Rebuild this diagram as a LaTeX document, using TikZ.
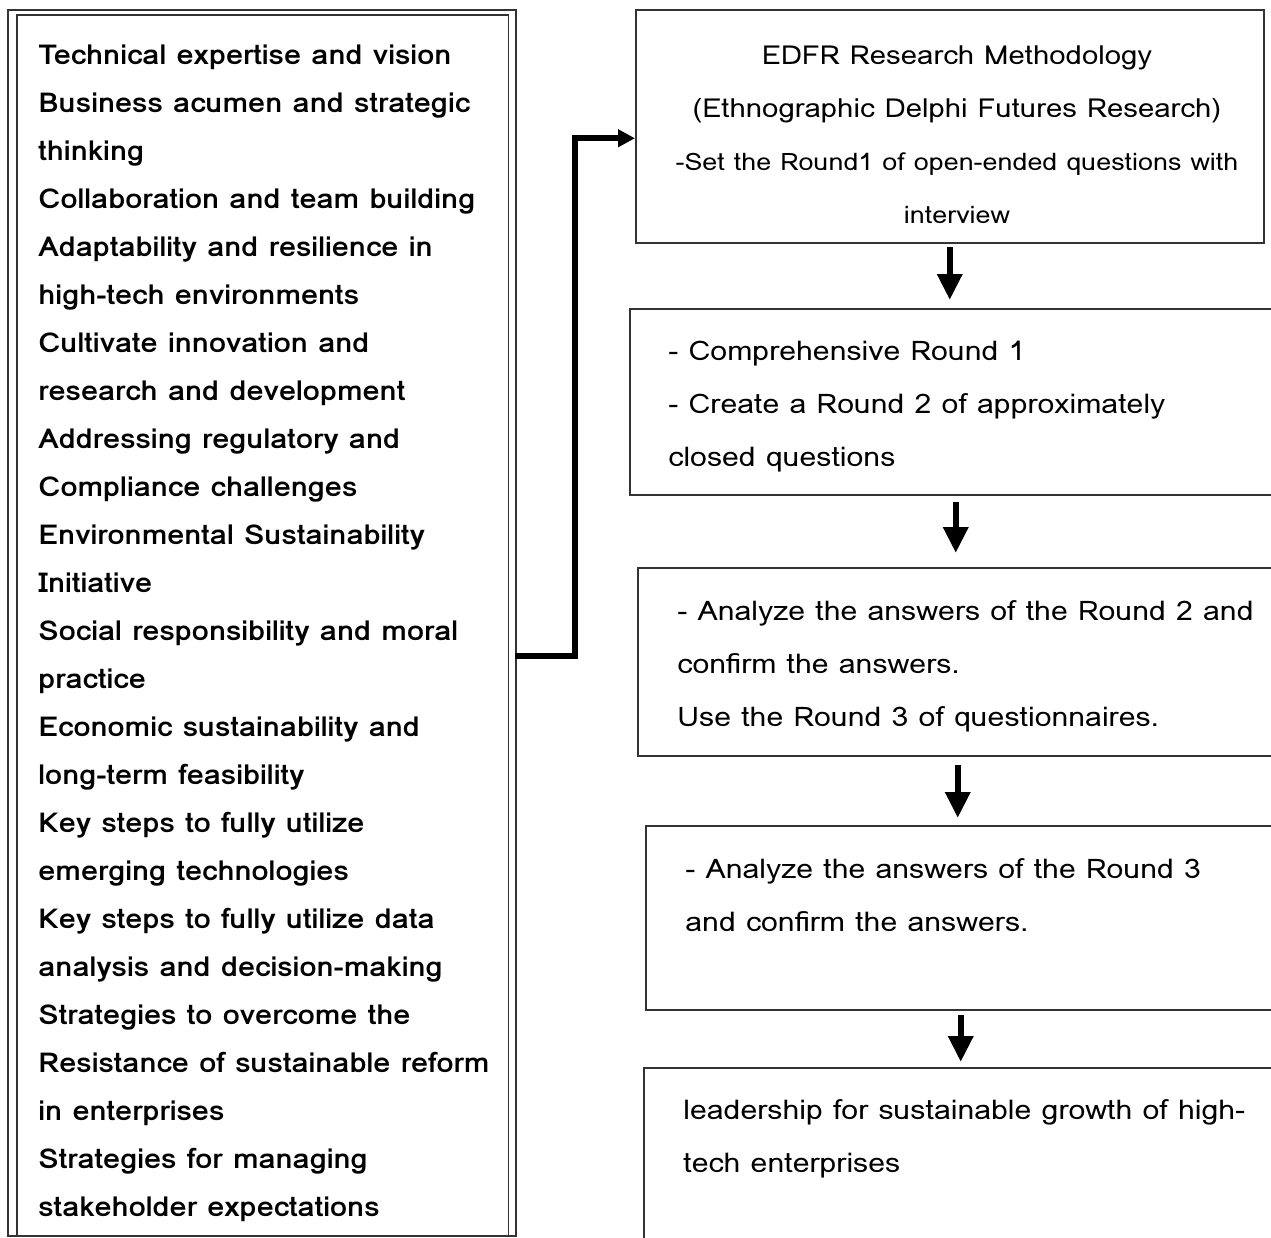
\documentclass[tikz,border=0pt]{standalone}
\usepackage{fontspec}
\setmainfont{Loma}[FakeStretch=1.12]
\usetikzlibrary{arrows.meta,positioning,calc}

\tikzset{
  box/.style={draw=black!80,line width=0.75pt,anchor=north west,inner sep=0pt},
  boxtext/.style={anchor=north west,inner sep=0pt,align=left,font=\fontsize{13.5}{26.5}\selectfont},
  flow/.style={line width=3.2pt,-{Triangle[length=13pt,width=12pt]}},
}

\begin{document}
\begin{tikzpicture}[x=0.5pt,y=-0.5pt]
	\useasboundingbox (0,0) rectangle (1271,1238);
	\clip (0,0) rectangle (1271,1238);
	%LEFT LIST (double frame)
	\node[box,minimum width=254pt,minimum height=613pt] (lst) at (7,9) {};
	\draw[draw=black!80,line width=0.75pt] ([xshift=5pt]lst.south west) |- ([xshift=-4pt,yshift=-3pt]lst.north east) -- ([xshift=-4pt]lst.south east);
	\node[boxtext,font=\bfseries\fontsize{13.7}{24}\selectfont] (lsttext) at (38,44) {Technical expertise and vision\\
		Business acumen and strategic\\
		thinking\\
		Collaboration and team building\\
		Adaptability and resilience in\\
		high-tech environments\\
		Cultivate innovation and\\
		research and development\\
		Addressing regulatory and\\
		Compliance challenges\\
		Environmental Sustainability\\
		Initiative\\
		Social responsibility and moral\\
		practice\\
		Economic sustainability and\\
		long-term feasibility\\
		Key steps to fully utilize\\
		emerging technologies\\
		Key steps to fully utilize data\\
		analysis and decision-making\\
		Strategies to overcome the\\
		Resistance of sustainable reform\\
		in enterprises\\
		Strategies for managing\\
		stakeholder expectations};
	
	%STEP BOXES
	\node[box,minimum width=314pt,minimum height=116.5pt] (edfr) at (635,9) {};
	\node[box,minimum width=326pt,minimum height=93pt] (round1) at (629,308) {};
	\node[box,minimum width=320pt,minimum height=94pt] (round2) at (637,567) {};
	\node[box,minimum width=315pt,minimum height=92pt] (round3) at (645,825) {};
	\node[box,minimum width=317pt,minimum height=100pt] (result) at (643,1067) {};
	%
	\node[boxtext,anchor=north,align=center,font=\fontsize{13.1}{26.5}\selectfont] (edfrtext) at (957,45) {EDFR Research Methodology\\
		(Ethnographic Delphi Futures Research)\\
		\fontsize{12}{26.5}\selectfont -Set the Round1 of open-ended questions with\\
		\fontsize{12}{26.5}\selectfont interview};
	\node[boxtext] (round1text) at (668,341) {- Comprehensive Round 1\\
		- Create a Round 2 of approximately\\
		closed questions};
	\node[boxtext] (round2text) at (677,600) {- Analyze the answers of the Round 2 and\\
		confirm the answers.\\
		Use the Round 3 of questionnaires.};
	\node[boxtext] (round3text) at (685,858) {- Analyze the answers of the Round 3\\
		and confirm the answers.};
	\node[boxtext] (resulttext) at (683,1099) {leadership for sustainable growth of high-\\
		tech enterprises};
	
	%ARROWS
	\coordinate (lstout) at (515,656);
	\draw[line width=3pt,-{Triangle[length=8.5pt,width=8.5pt]}] (lstout) -- ++(60,0) |- ([yshift=-6pt]edfr.west);
	\draw[flow,shorten <=1.5pt,shorten >=4pt] (edfr.south) -- (edfr.south |- round1.north);
	\draw[flow,shorten <=3pt,shorten >=7pt] (round1.south) -- (round1.south |- round2.north);
	\draw[flow,shorten <=4pt,shorten >=3.5pt] (round2.south) -- (round2.south |- round3.north);
	\draw[flow,shorten <=2pt,shorten >=2.5pt] (round3.south) -- (round3.south |- result.north);
\end{tikzpicture}
\end{document}
